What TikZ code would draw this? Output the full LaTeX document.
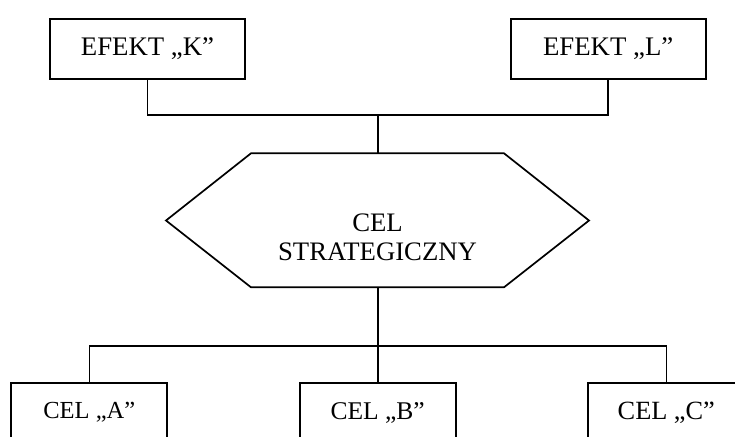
\documentclass[tikz,border=0pt]{standalone}
\usepackage{fontspec}
\setmainfont{Liberation Serif}
\begin{document}
\begin{tikzpicture}[x=1pt,y=-1pt,line join=miter,
  topbox/.style={draw, line width=2pt, rectangle, minimum width=195pt,
    inner xsep=0pt, inner ysep=0pt, text height=36.6pt, text depth=23.7pt,
    anchor=north, font=\fontsize{26.8}{30}\selectfont},
  botbox/.style={draw, line width=2pt, rectangle, minimum width=156pt,
    inner xsep=0pt, inner ysep=0pt, text depth=40pt, anchor=north},
  hexbox/.style={line width=1.7pt},
  wire/.style={line width=1.6pt}]
\useasboundingbox (0,0) rectangle (735,436);
\clip (0,0) rectangle (735,436);

% top boxes
\node[topbox] (K) at (147.5,17.7) {EFEKT „K”};
\node[topbox] (L) at (608.2,17.7) {EFEKT „L”};

% hexagon
\coordinate (hexT) at (377.7,153.3);
\coordinate (hexB) at (377.7,287.3);
\draw[hexbox] (166,220.5) -- (251,153.3) -- (504,153.3) -- (589,220.5)
  -- (504,287.3) -- (251,287.3) -- cycle;
\node[align=center, inner sep=0pt, font=\fontsize{26.7}{29}\selectfont] (hex)
  at (377.5,237.6) {CEL\\STRATEGICZNY};

% bottom boxes
\node[botbox, text height=35.4pt, font=\fontsize{24.5}{29}\selectfont] (A) at (89.3,382.3) {CEL „A”};
\node[botbox, text height=36.4pt, font=\fontsize{25.5}{29}\selectfont] (B) at (377.7,382.3) {CEL „B”};
\node[botbox, text height=36pt, font=\fontsize{26.3}{29}\selectfont] (C) at (666.3,382.3) {CEL „C”};

% connectors
\coordinate (jt) at (377.7,115);
\coordinate (jb) at (377.7,345.7);
\draw[wire] (K.south) |- (jt) -| (L.south);
\draw[wire] (jt) -- (hexT);
\draw[wire] (hexB) -- (B.north);
\draw[wire] (A.north) |- (jb) -| (C.north);
\end{tikzpicture}
\end{document}
